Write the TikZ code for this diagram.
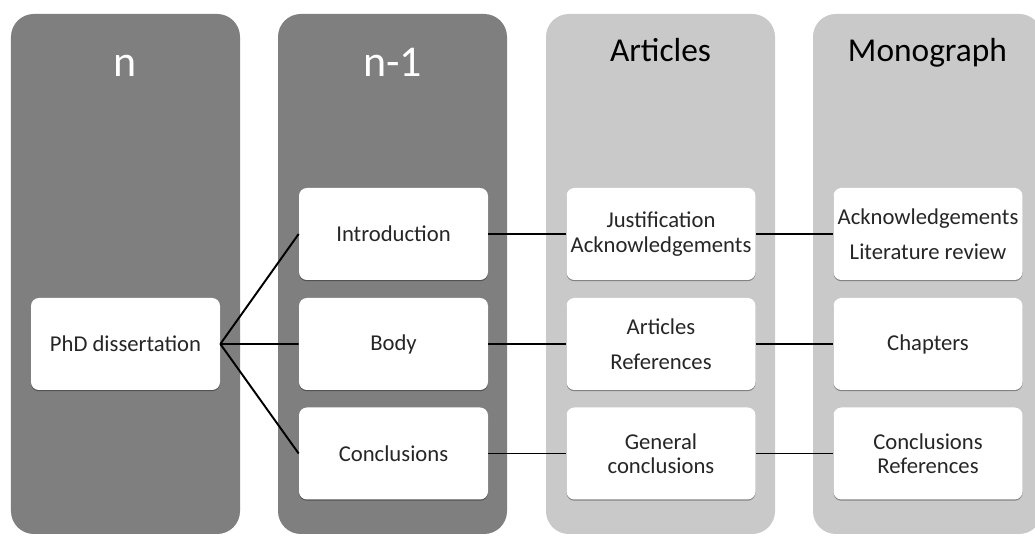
\documentclass[tikz,border=0pt]{standalone}
\usepackage{fontspec}
\setmainfont{Carlito}
\usetikzlibrary{shadows}

\definecolor{darkcol}{HTML}{7F7F7F}
\definecolor{lightcol}{HTML}{C9C9C9}
\definecolor{boxtext}{HTML}{262626}

\tikzset{
	column/.style={rounded corners=13pt, minimum width=4.58cm, minimum height=10.4cm, inner sep=0pt},
	head/.style={anchor=base, font=\fontsize{19}{22}\selectfont},
	bighead/.style={anchor=base, font=\fontsize{25}{28}\selectfont, white},
	part/.style={fill=white, rounded corners=4.5pt, minimum width=3.78cm, minimum height=1.84cm,
		align=center, inner sep=0pt, text=boxtext, font=\fontsize{12.9}{13.8}\selectfont,
		drop shadow={shadow xshift=0pt, shadow yshift=-0.7pt, fill=black, opacity=0.35}},
	link/.style={-, black, line width=1.1pt}
}

\begin{document}
\begin{tikzpicture}
			\useasboundingbox[fill=white] (0, 0) rectangle (20.7, 10.72);
			\clip (0, 0) rectangle (20.7, 10.72);

			% columns
			\node[column, fill=darkcol]		(coln)	at (2.51, 5.24) {};
			\node[column, fill=darkcol]		(colm)	at (7.85, 5.24) {};
			\node[column, fill=lightcol]	(colart)	at (13.21, 5.24) {};
			\node[column, fill=lightcol]	(colmono)	at (18.55, 5.24) {};

			\node[bighead]	(hn)	at (2.51, 9.18) {n};
			\node[bighead]	(hm)	at (7.85, 9.18) {n-1};
			\node[head]		(hart)	at (13.21, 9.48) {Articles};
			\node[head]		(hmono)	at (18.55, 9.48) {Monograph};

			% boxes
			\node[part]	(phd)	at (2.51, 3.84) {PhD dissertation};

			\node[part]	(intro)	at (7.87, 6.04) {Introduction};
			\node[part]	(body)	at (7.87, 3.84) {Body};
			\node[part]	(concl)	at (7.87, 1.65) {Conclusions};

			\node[part]	(artintro)	at (13.22, 6.04) {Justification\\Acknowledgements};
			\node[part]	(artbody)	at (13.22, 3.84) {Articles\\[6pt]References};
			\node[part]	(artconcl)	at (13.22, 1.65) {General\\conclusions};

			\node[part]	(monintro)	at (18.56, 6.04) {Acknowledgements\\[6pt]Literature review};
			\node[part]	(monbody)	at (18.56, 3.84) {Chapters};
			\node[part]	(monconcl)	at (18.56, 1.65) {Conclusions\\References};

			% links
			\draw[link]	(phd.east) to (intro.west)
						(phd.east) to (body.west)
						(phd.east) to (concl.west);

			\draw[link]	(intro) to (artintro)
						(body) to (artbody)
						(concl) to (artconcl);
			\draw[link]	(artintro) to (monintro)
						(artbody) to (monbody)
						(artconcl) to (monconcl);
		\end{tikzpicture}
\end{document}
